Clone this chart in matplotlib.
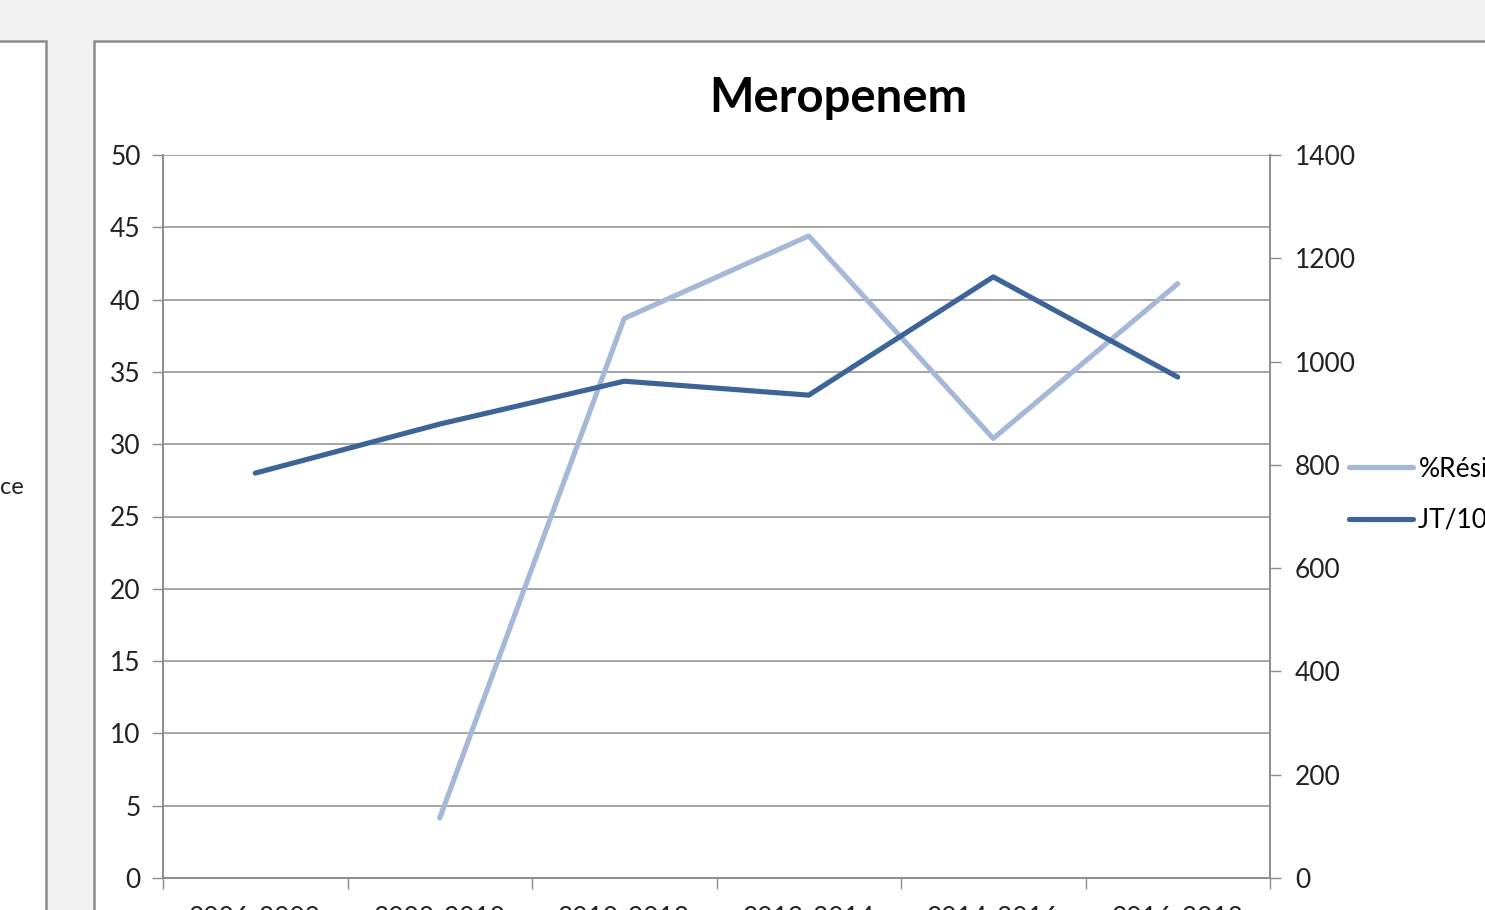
import matplotlib
matplotlib.use("Agg")
import matplotlib.pyplot as plt
import numpy as np
from matplotlib.patches import Rectangle
from matplotlib.lines import Line2D

plt.rcParams['font.family'] = ['Lato', 'DejaVu Sans']

categories = ["2006-2008", "2008-2010", "2010-2012", "2012-2014", "2014-2016", "2016-2018"]
resistance = [np.nan, 4.15, 38.7, 44.4, 30.4, 41.1]
jt_1000 = [784, 879, 962, 935, 1164, 970]
left_ticks = list(range(0, 51, 5))
right_ticks = list(range(0, 1401, 200))

W, H = 1485, 910
fig = plt.figure(figsize=(W / 100, H / 100), dpi=100, facecolor="#f2f2f2")

# panels (chart frames)
fig.patches.append(Rectangle((-10 / W, -10 / H), 56 / W, (H - 41 + 10) / H, transform=fig.transFigure,
                             facecolor="white", edgecolor="#8c8c8c", linewidth=1.8, zorder=-10))
fig.patches.append(Rectangle((94 / W, -10 / H), (W - 94 + 10) / W, (H - 41 + 10) / H, transform=fig.transFigure,
                             facecolor="white", edgecolor="#8c8c8c", linewidth=1.8, zorder=-10))
fig.text(0 / W, 1 - 488 / H, "ce", fontsize=17, color="#222222", va="center", ha="left")

ax = fig.add_axes([163 / W, 1 - 878 / H, (1270 - 163) / W, (878 - 155) / H])
ax.set_facecolor("none")
ax2 = ax.twinx()

x = np.arange(len(categories)) + 0.5
light = "#a6b8d8"
dark = "#3c6497"
LW = 3.7
ax.plot(x, resistance, color=light, lw=LW, solid_capstyle="round", solid_joinstyle="round", zorder=3)
ax2.plot(x, jt_1000, color=dark, lw=LW, solid_capstyle="round", solid_joinstyle="round", zorder=3)

ax.set_xlim(0, len(categories))
ax.set_ylim(0, 50)
ax2.set_ylim(0, 1400)
ax.set_yticks(left_ticks)
ax2.set_yticks(right_ticks)
ax.set_xticks(np.arange(len(categories) + 1))
ax.set_xticklabels([])
ax.set_xticks(x, minor=True)
ax.set_xticklabels(categories, minor=True)
ax.tick_params(axis="x", which="minor", length=0, pad=20, labelsize=19, colors="#222222")
ax.tick_params(axis="x", which="major", length=8, color="#8c8c8c", width=1)

for a in (ax, ax2):
    for s in a.spines.values():
        s.set_color("#8c8c8c")
        s.set_linewidth(1.2)
    a.spines["top"].set_visible(False)

ax.yaxis.grid(True, color="#8c8c8c", lw=1.1)
ax.set_axisbelow(True)
ax.tick_params(axis="y", length=8, color="#8c8c8c", width=1, labelsize=19, labelcolor="#222222", pad=8)
ax2.tick_params(axis="y", length=8, color="#8c8c8c", width=1, labelsize=19, labelcolor="#222222", pad=10)

fig.text(838 / W, 1 - 98 / H, "Meropenem", fontsize=34, fontweight="bold", ha="center", va="center", color="black")

handles = [Line2D([], [], color=light, lw=LW, solid_capstyle="round"),
           Line2D([], [], color=dark, lw=LW, solid_capstyle="round")]
fig.legend(handles, ["%Résistance", "JT/1000 JH"], loc="upper left",
           bbox_to_anchor=(1338 / W, 1 - 446 / H), frameon=False, fontsize=19,
           handlelength=2.45, handletextpad=0.2, labelspacing=1.0, borderaxespad=0)

fig.savefig("out.png", dpi=100, facecolor=fig.get_facecolor())
